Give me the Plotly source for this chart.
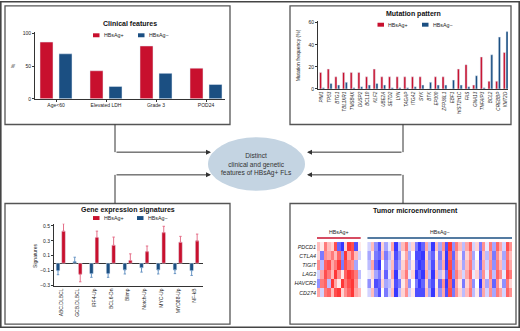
import plotly.graph_objects as go

W, H = 520, 331
RED = "#c8102e"
BLUE = "#1b4f82"
RED_ERR = "#e5708a"
BLUE_ERR = "#6a96c4"
FONT = "Liberation Sans, Arial, sans-serif"
AX = "#333333"

# ---------------- data ----------------
clin_cats = ["Age<60", "Elevated LDH", "Grade 3", "POD24"]
clin_pos = [87, 43, 81, 47]
clin_neg = [69, 19, 39, 22]

mut_genes = ["PIM1", "TP53", "BTG1", "TBL1XR1", "TMSB4X", "DUSP2", "BCL10", "KLF2",
             "UBE2A", "SETD2", "LYN", "TAGAP", "ITGA2", "SYK", "BTK", "EP300",
             "ZFP36L1", "EBF1", "HIST1H1C", "FAS", "GNA13", "TNFAIP3", "BCL2",
             "CREBBP", "KMT2D"]
mut_pos = [15, 18, 11, 15, 15, 15, 11, 18, 11, 11, 11, 11, 11, 11, 0, 11,
           11, 0, 18, 22, 3.5, 29, 7, 7, 33]
mut_neg = [1, 5, 3.5, 6, 1, 2, 3.5, 5, 3.5, 1, 1, 1, 2, 3.5, 6, 3.5,
           3.5, 8, 3.5, 2, 12, 1, 31, 47, 52]

sig_cats = ["ABC.DLBCL", "GCB.DLBCL", "IRF4-Up", "BCL6-Dn", "Blimp", "Notch-Up",
            "MYC-Up", "MYD88-Up", "NF-kB"]
sig_pos = [0.43, -0.15, 0.345, 0.24, 0.035, 0.155, 0.41, 0.28, 0.30]
sig_pos_err = [0.10, 0.10, 0.085, 0.11, 0.09, 0.075, 0.085, 0.08, 0.09]
sig_neg = [-0.10, 0.02, -0.14, -0.14, -0.09, -0.06, -0.09, -0.09, -0.10]
sig_neg_err = [0.055, 0.06, 0.05, 0.05, 0.055, 0.06, 0.055, 0.05, 0.065]

tme_genes = ["PDCD1", "CTLA4", "TIGIT", "LAG3", "HAVCR2", "CD274"]
tme_pos_cols = list(range(13))
tme_neg_cols = list(range(15, 58))
tme_pos = [
    [3, 1, 6, 3, 2, 8, -7, -9, 2, 9, 8, -8, 1],
    [2, -6, 5, 4, 6, 3, 7, -5, 9, 4, 7, 3, -2],
    [5, -3, 7, 8, 4, 6, 9, -6, 8, 6, 5, -4, 0],
    [-2, 4, 8, 6, 3, 9, 5, 1, 7, 9, 8, 6, -3],
    [-5, 6, 7, -3, 9, 4, 1, 9, 6, 8, 9, 5, -1],
    [4, -2, 6, 7, 3, 8, 9, 2, 5, 7, 9, 4, 3],
]
tme_neg = [
    [-2, 3, -5, -8, 2, -4, -1, 4, -9, -3, 3, 6, -2, 2, -6, -9, -7, 4, -3, -9, 3, -4, 5, -8, 9, -5, 6, 3, -3, 4, 7, -2, 2, -6, 5, -1, 6, -4, 7, 4, -2, 8, 5],
    [-4, 1, -6, -7, 3, -6, -3, 2, -8, -5, 1, 4, -4, 0, -8, -8, -9, 2, -5, -7, 1, -6, 3, -9, 7, -7, 4, 1, -5, 2, 5, -4, 0, -8, 3, -3, 4, -6, 5, 2, -4, 6, 3],
    [-3, 4, -7, -9, 0, -5, -2, 3, -7, -4, 2, 5, -3, 1, -7, -9, -8, 3, -4, -8, 2, -5, 4, -9, 8, -6, 5, 2, -4, 3, 6, -3, 1, -7, 4, -2, 5, -5, 6, 3, -3, 7, 4],
    [-1, 2, -4, -6, 1, -7, -1, 4, -9, -2, 3, 6, -1, 2, -9, -7, -9, 4, -3, -9, 3, -3, 2, -7, 9, -5, 6, 3, -2, 4, 7, -1, 2, -5, 5, -1, 6, -3, 7, 5, -1, 8, 6],
    [-5, 1, -8, -7, 2, -4, -3, 2, -8, -6, 1, 4, -5, 0, -6, -9, -7, 2, -6, -8, 1, -7, 5, -9, 7, -8, 4, 1, -6, 2, 5, -5, 0, -9, 3, -4, 4, -7, 5, 1, -5, 6, 2],
    [-2, 3, -5, -8, 0, -6, -2, 3, -9, -3, 2, 5, -2, 1, -8, -8, -8, 3, -4, -9, 2, -5, 4, -8, 8, -6, 5, 2, -3, 3, 6, -3, 1, -6, 4, -2, 5, -4, 6, 4, -2, 7, 5],
]


def px(x):
    return x / W


def py(y):
    return 1 - y / H


fig = go.Figure()

# ---------------- clinical ----------------
fig.add_bar(x=clin_cats, y=clin_pos, marker_color=RED, width=0.26, offset=-0.32,
            xaxis="x", yaxis="y", showlegend=False)
fig.add_bar(x=clin_cats, y=clin_neg, marker_color=BLUE, width=0.26, offset=0.06,
            xaxis="x", yaxis="y", showlegend=False)

# ---------------- mutation ----------------
fig.add_bar(x=mut_genes, y=mut_pos, marker_color=RED, width=0.28, offset=-0.32,
            xaxis="x2", yaxis="y2", showlegend=False)
fig.add_bar(x=mut_genes, y=mut_neg, marker_color=BLUE, width=0.28, offset=0.04,
            xaxis="x2", yaxis="y2", showlegend=False)

# ---------------- signatures ----------------
def up(v, e):
    return [e if val >= 0 else 0 for val, e in zip(v, e)]


def down(v, e):
    return [e if val < 0 else 0 for val, e in zip(v, e)]


fig.add_bar(x=sig_cats, y=sig_neg, marker_color=BLUE, width=0.22, offset=-0.29,
            xaxis="x3", yaxis="y3", showlegend=False,
            error_y=dict(type="data", symmetric=False, array=up(sig_neg, sig_neg_err),
                         arrayminus=down(sig_neg, sig_neg_err), color=BLUE_ERR,
                         thickness=1, width=1.2))
fig.add_bar(x=sig_cats, y=sig_pos, marker_color=RED, width=0.22, offset=0.04,
            xaxis="x3", yaxis="y3", showlegend=False,
            error_y=dict(type="data", symmetric=False, array=up(sig_pos, sig_pos_err),
                         arrayminus=down(sig_pos, sig_pos_err), color=RED_ERR,
                         thickness=1, width=1.2))

# ---------------- heatmap ----------------
cs = [[0, "#0000ff"], [0.5, "#ffffff"], [1, "#ff0000"]]
fig.add_heatmap(x=tme_pos_cols, y=tme_genes, z=[[v / 10 for v in r] for r in tme_pos],
                colorscale=cs, zmin=-1.15, zmax=1.15, showscale=False, xaxis="x4", yaxis="y4")
fig.add_heatmap(x=tme_neg_cols, y=tme_genes, z=[[v / 10 for v in r] for r in tme_neg],
                colorscale=cs, zmin=-1.15, zmax=1.15, showscale=False, xaxis="x4", yaxis="y4")

tick = dict(family=FONT, size=5, color="#222")
common_y = dict(showline=True, linecolor=AX, linewidth=1, ticks="outside", ticklen=2,
                tickcolor=AX, showgrid=False, zeroline=False, tickfont=tick)
common_x = dict(showline=True, linecolor=AX, linewidth=1, showgrid=False, zeroline=False,
                tickfont=tick, tickcolor=AX)

fig.update_layout(
    width=W, height=H, margin=dict(l=0, r=0, t=0, b=0),
    paper_bgcolor="white", plot_bgcolor="rgba(0,0,0,0)",
    font=dict(family=FONT, color="#222"), barmode="overlay",
    xaxis=dict(domain=[px(35), px(225)], anchor="y", range=[-0.42, 3.38],
               ticks="outside", ticklen=2, ticklabelstandoff=-1, **common_x),
    yaxis=dict(domain=[py(99), py(31)], anchor="x", range=[0, 103],
               tickvals=[0, 50, 100], **common_y),
    xaxis2=dict(domain=[px(318), px(508)], anchor="y2", range=[-0.52, 24.3],
                ticks="", tickangle=-90, **{**common_x, "tickfont": dict(family=FONT, size=4.6, color="#222", style="italic")}),
    yaxis2=dict(domain=[py(89), py(20)], anchor="x2", range=[0, 61.8],
                tickvals=[0, 20, 40, 60], **common_y),
    xaxis3=dict(domain=[px(54), px(203)], anchor="y3", range=[-0.42, 8.5],
                ticks="", tickangle=-90, **common_x),
    yaxis3=dict(domain=[py(288), py(225.4)], anchor="x3", range=[-0.3, 0.53],
                tickvals=[-0.3, -0.1, 0.1, 0.3, 0.5], ticktext=["−0.3", "−0.1", "0.1", "0.3", "0.5"],
                **{**common_y, "zeroline": True, "zerolinecolor": AX, "zerolinewidth": 1}),
    xaxis4=dict(domain=[px(317), px(512)], anchor="y4", range=[-0.5, 57.5], visible=False),
    yaxis4=dict(domain=[py(300), py(244)], anchor="x4", autorange="reversed",
                showline=False, ticks="", showgrid=False, zeroline=False,
                tickfont=dict(family=FONT, size=5.4, color="#222", style="italic")),
)

shapes = []
annots = []

# outer frame
shapes.append(dict(type="rect", xref="paper", yref="paper", x0=px(0.8), x1=px(519.2),
                   y0=py(330.2), y1=py(0.8), line=dict(color="#444", width=1.6)))
# panel boxes
for (x0, y0, x1, y1) in [(5, 5, 230, 125), (290, 5, 511, 125), (5, 205, 230, 327), (290, 205, 516, 327)]:
    shapes.append(dict(type="rect", xref="paper", yref="paper", x0=px(x0), x1=px(x1),
                       y0=py(y1), y1=py(y0), line=dict(color="#555", width=1.3),
                       layer="below"))
# ellipse
shapes.append(dict(type="circle", xref="paper", yref="paper", x0=px(208), x1=px(305),
                   y0=py(192), y1=py(138), fillcolor="#c4d4e2", line=dict(width=0)))
# connectors
for (xa, ya, yb) in [(115, 125, 153), (115, 205, 176), (403, 125, 153), (403, 205, 176)]:
    shapes.append(dict(type="line", xref="paper", yref="paper", x0=px(xa), x1=px(xa),
                       y0=py(ya), y1=py(yb), line=dict(color="#333", width=1)))
for (xa, xb, y) in [(115, 211, 153), (115, 211, 176), (403, 307, 153), (403, 307, 176)]:
    annots.append(dict(xref="paper", yref="paper", axref="pixel", ayref="pixel",
                       x=px(xb), y=py(y), ax=xa - xb, ay=0, text="", showarrow=True,
                       arrowhead=2, arrowsize=1, arrowwidth=1, arrowcolor="#333"))

annots.append(dict(xref="paper", yref="paper", x=px(256.5), y=py(165.5), showarrow=False,
                   text="Distinct<br>clinical and genetic<br>features of HBsAg+ FLs",
                   font=dict(family=FONT, size=6.6, color="#333"), align="center"))

# titles
for (t, x, y) in [("Clinical features", 130, 23), ("Mutation pattern", 413, 13),
                  ("Gene expression signatures", 128, 212), ("Tumor microenvironment", 415, 212)]:
    annots.append(dict(xref="paper", yref="paper", x=px(x), y=py(y), showarrow=False,
                       text="<b>" + t + "</b>", font=dict(family=FONT, size=7, color="#111"),
                       xanchor="center", yanchor="middle"))

# axis titles
for (t, x, y) in [("%", 13, 66), ("Mutation frequency (%)", 298, 55), ("Signatures", 35, 258)]:
    annots.append(dict(xref="paper", yref="paper", x=px(x), y=py(y), showarrow=False,
                       text=t, textangle=-90, font=dict(family=FONT, size=5, color="#222"),
                       xanchor="center", yanchor="middle"))

# legends
for (rx, bx, y) in [(93, 138, 34.7), (377.5, 422, 24), (93, 137, 219.7)]:
    for (sx, col, lab) in [(rx, RED, "HBsAg+"), (bx, BLUE, "HBsAg−")]:
        shapes.append(dict(type="rect", xref="paper", yref="paper", x0=px(sx), x1=px(sx + 6.5),
                           y0=py(y + 2), y1=py(y - 2), fillcolor=col, line=dict(width=0)))
        annots.append(dict(xref="paper", yref="paper", x=px(sx + 8.5), y=py(y), showarrow=False,
                           text=lab, font=dict(family=FONT, size=5.3, color="#222"),
                           xanchor="left", yanchor="middle"))

# heatmap group headers
for (x0, x1, col, lab) in [(-0.5, 12.5, RED, "HBsAg+"), (14.5, 57.5, BLUE, "HBsAg−")]:
    shapes.append(dict(type="line", xref="x4", yref="paper", x0=x0, x1=x1, y0=py(240), y1=py(240),
                       line=dict(color=col, width=1.5)))
    annots.append(dict(xref="x4", yref="paper", x=(x0 + x1) / 2, y=py(234), showarrow=False,
                       text=lab, font=dict(family=FONT, size=5.3, color="#222"),
                       xanchor="center", yanchor="middle"))

fig.update_layout(shapes=shapes, annotations=annots)
fig.write_html("out.html", config={"displayModeBar": False, "staticPlot": True},
               post_script="document.body.style.margin='0px';document.body.style.overflow='hidden';")
